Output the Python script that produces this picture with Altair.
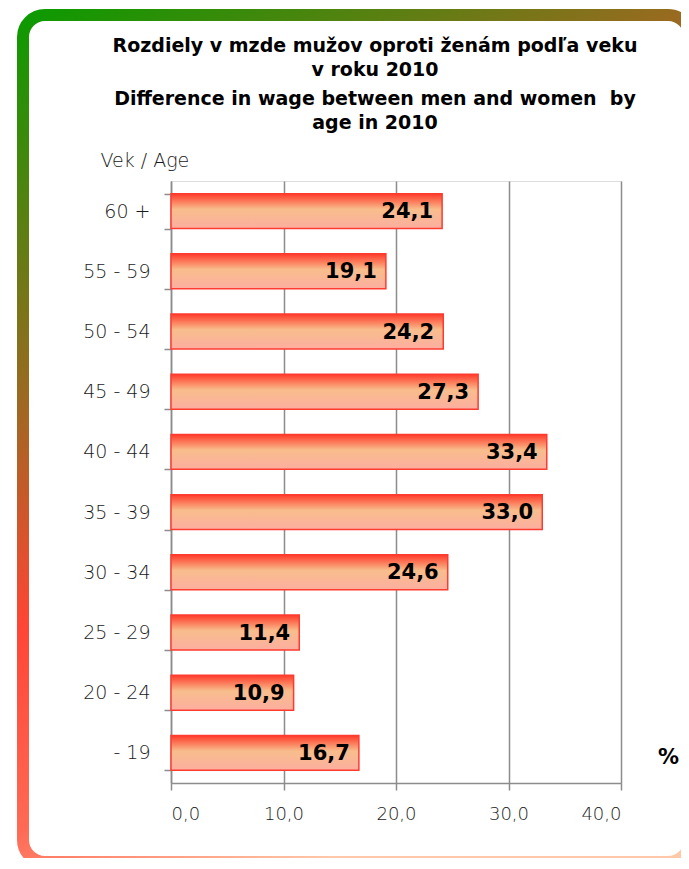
import altair as alt
import pandas as pd

categories = ["60 +", "55 - 59", "50 - 54", "45 - 49", "40 - 44",
              "35 - 39", "30 - 34", "25 - 29", "20 - 24", "- 19"]
values = [24.1, 19.1, 24.2, 27.3, 33.4, 33.0, 24.6, 11.4, 10.9, 16.7]
x_ticks = [0, 10, 20, 30, 40]

df = pd.DataFrame({"age": categories, "value": values})

PW, PH = 450, 602
LEFT, TOP = 163, 173
VW, VH = 673, 850
LIGHT = "DejaVu Sans"
TXT = "#1a1a1a"

panel = alt.Chart(pd.DataFrame({"a": [0]})).mark_rect(
    cornerRadius=22,
    fill="white",
    fillOpacity=0,
    strokeWidth=12,
    stroke=alt.Gradient(
        gradient="linear", x1=0, y1=0, x2=0.45, y2=1,
        stops=[
            alt.GradientStop(offset=0, color="#0c9a00"),
            alt.GradientStop(offset=0.37, color="#9a6a20"),
            alt.GradientStop(offset=0.6, color="#ff4535"),
            alt.GradientStop(offset=0.8, color="#ff6a55"),
            alt.GradientStop(offset=1, color="#ffc8a8"),
        ],
    ),
).encode(
    x=alt.value(-148), x2=alt.value(519),
    y=alt.value(-166), y2=alt.value(681),
)

y_enc = alt.Y(
    "age:N", sort=categories,
    scale=alt.Scale(paddingInner=0.42, paddingOuter=0.21),
    axis=alt.Axis(
        title="Vek / Age", titleAngle=0, titleAlign="left", titleBaseline="middle",
        titleX=-71, titleY=-21, titleFont=LIGHT, titleFontSize=19,
        titleFontWeight=200, titleColor=TXT,
        labelFont=LIGHT, labelFontSize=19, labelFontWeight=200, labelColor=TXT,
        labelPadding=14, tickBand="extent", tickSize=7, tickColor="#8c8c8c",
        tickWidth=1.5, domainColor="#8c8c8c", domainWidth=1.5, grid=False,
    ),
)

x_enc = alt.X(
    "value:Q",
    scale=alt.Scale(domain=[0, 40], nice=False),
    axis=alt.Axis(
        values=x_ticks, title="%", titleX=497, titleY=-26, titleAlign="center",
        titleBaseline="middle", titleFont="DejaVu Sans", titleFontSize=21,
        titleFontWeight="bold", titleColor="black",
        labelExpr="replace(format(datum.value, '.1f'), '.', ',')",
        labelFont=LIGHT, labelFontSize=18, labelFontWeight=200, labelColor=TXT,
        labelPadding=15, tickSize=7, tickColor="#8c8c8c", tickWidth=1.5,
        domainColor="#8c8c8c", domainWidth=1.5,
        grid=True, gridColor="#8c8c8c", gridWidth=1.5,
    ),
)

bars = alt.Chart(df).mark_bar(
    fill=alt.Gradient(
        gradient="linear", x1=0, y1=0, x2=0, y2=1,
        stops=[
            alt.GradientStop(offset=0, color="#ff3a2a"),
            alt.GradientStop(offset=0.45, color="#f8bd8c"),
            alt.GradientStop(offset=1, color="#fcaea0"),
        ],
    ),
    stroke="#ff3b30", strokeWidth=1.5,
).encode(x=x_enc, y=y_enc)

labels = alt.Chart(df).transform_calculate(
    lab="replace(format(datum.value, '.1f'), '.', ',')"
).mark_text(
    align="right", baseline="middle", dx=-9, dy=1,
    font="DejaVu Sans", fontWeight="bold", fontSize=21, color="black",
).encode(
    x=alt.X("value:Q"), y=alt.Y("age:N", sort=categories), text="lab:N"
)

chart = alt.layer(panel, bars, labels).properties(
    width=PW, height=PH,
    title=alt.TitleParams(
        text=["Rozdiely v mzde mužov oproti ženám podľa veku", "v roku 2010"],
        subtitle=["Difference in wage between men and women\u00a0 by", "age in 2010"],
        font="DejaVu Sans", fontSize=19, fontWeight="bold", color="black",
        subtitleFont="DejaVu Sans", subtitleFontSize=19, subtitleFontWeight="bold",
        subtitleColor="black", lineHeight=24, subtitleLineHeight=24,
        subtitlePadding=10, anchor="middle", frame="group", dx=-21, dy=138, offset=14,
    ),
    autosize=alt.AutoSizeParams(type="none"),
    padding={"left": LEFT, "top": TOP, "right": VW - LEFT - PW, "bottom": VH - TOP - PH},
).configure_view(stroke=None).configure(background="white")

chart.save("out.html", embed_options={"renderer": "svg", "actions": False})
